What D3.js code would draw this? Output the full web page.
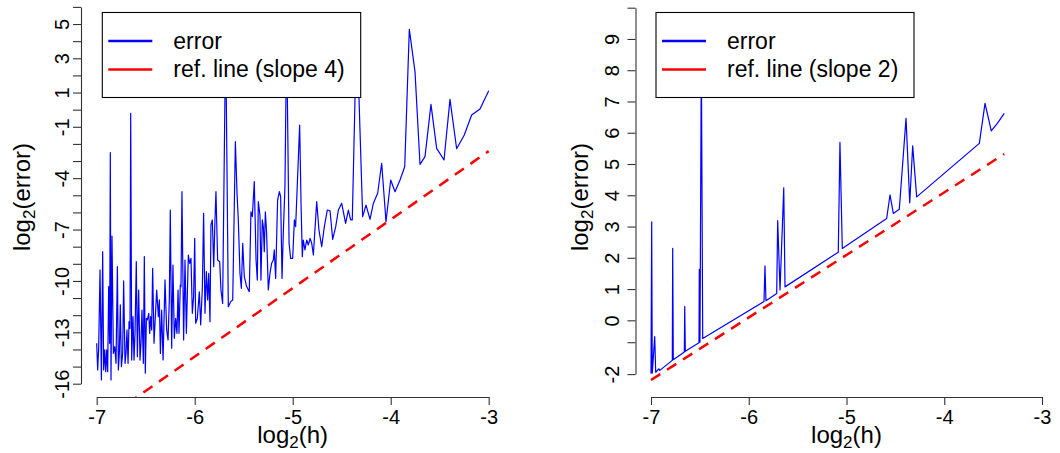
<!DOCTYPE html>
<html>
<head>
<meta charset="utf-8">
<script src="https://cdn.jsdelivr.net/npm/d3@7"></script>
<style>
  body { margin: 0; background: #fff; }
  svg { display: block; font-family: "Liberation Sans", Arial, Helvetica, sans-serif; }
</style>
</head>
<body>
<svg id="chart" width="1060" height="453"></svg>
<script>
// ---- data (log2(h), log2(error)) ----
const xTicks = [-7, -6, -5, -4, -3];

// left panel: slope 4 case
const leftX = [
  -7.000, -6.990, -6.980, -6.966, -6.952, -6.939, -6.929, -6.918, -6.908, -6.898,
  -6.888, -6.878, -6.868, -6.861, -6.854, -6.844, -6.830, -6.816, -6.803, -6.789,
  -6.779, -6.769, -6.759, -6.748, -6.735, -6.725, -6.711, -6.701, -6.691, -6.680,
  -6.670, -6.660, -6.653, -6.643, -6.630, -6.619, -6.609, -6.596, -6.585, -6.572,
  -6.558, -6.548, -6.538, -6.524, -6.514, -6.504, -6.493, -6.483, -6.469, -6.459,
  -6.449, -6.439, -6.429, -6.415,
  -6.388, -6.371, -6.361, -6.350, -6.337, -6.323, -6.303, -6.286, -6.272, -6.259,
  -6.249, -6.235, -6.222, -6.208, -6.194, -6.181, -6.170, -6.160, -6.147, -6.140,
  -6.130, -6.113, -6.099, -6.085, -6.065, -6.051, -6.038, -6.024, -6.011, -6.000,
  -5.990, -5.973, -5.953, -5.939, -5.922, -5.909, -5.895, -5.881, -5.868, -5.857,
  -5.844, -5.834, -5.820, -5.806, -5.793, -5.783, -5.766, -5.745, -5.732, -5.715,
  -5.684, -5.657, -5.633, -5.612, -5.585, -5.568, -5.555, -5.538, -5.524, -5.510,
  -5.494, -5.470, -5.443, -5.426, -5.412, -5.392,
  -5.374, -5.361, -5.351, -5.334, -5.324, -5.310, -5.300, -5.290, -5.279, -5.266,
  -5.249, -5.232, -5.215, -5.198, -5.188, -5.174, -5.154, -5.136, -5.123, -5.109,
  -5.096, -5.079, -5.062, -5.037, -5.021, -5.000, -4.983, -4.970, -4.929, -4.915,
  -4.902, -4.892, -4.875, -4.857, -4.840, -4.823, -4.806, -4.789, -4.755, -4.732,
  -4.704, -4.677, -4.647, -4.619, -4.592, -4.561, -4.534, -4.500, -4.460, -4.432,
  -4.409, -4.392, -4.347, -4.286, -4.252, -4.211, -4.177, -4.133, -4.092, -4.048,
  -4.000, -3.956, -3.905, -3.857, -3.810, -3.752, -3.701, -3.650, -3.589, -3.531,
  -3.456, -3.395, -3.327, -3.249, -3.174, -3.089, -3.000
];
const leftErr = [
  -13.64, -15.20, -13.93, -9.36, -15.78, -8.29, -15.20, -14.03, -15.30, -14.03,
  -15.30, -10.33, -13.64, -2.51, -15.78, -7.38, -14.23, -13.84, -14.81, -9.17,
  -15.20, -14.23, -11.40, -15.00, -14.23, -10.00, -14.81, -14.23, -12.86, -14.81,
  -12.38, -12.77, -0.21, -14.62, -12.08, -14.62, -13.06, -8.87, -14.42, -10.53,
  -14.62, -13.64, -11.70, -14.81, -8.58, -15.39, -12.18, -12.28, -11.89, -13.06,
  -12.08, -12.86, -9.26, -13.64,
  -10.53, -12.09, -11.11, -14.23, -11.70, -14.61, -9.94, -12.86, -13.45, -11.11,
  -5.86, -13.93, -9.07, -13.35, -12.18, -13.06, -10.53, -13.06, -10.24, -10.33,
  -4.79, -13.45, -8.78, -13.06, -8.49, -8.97, -8.68, -11.89, -10.92, -7.51,
  -12.47, -12.18, -10.63, -12.57, -10.43, -6.05, -11.89, -9.46, -11.11, -9.56,
  -12.38, -6.73, -6.44, -9.17, -6.44, -4.79, -8.78, -8.88, -10.53, -11.31,
  4.5, -11.50, -11.21, -11.11, -1.87, -4.89, -6.44, -9.56, -10.43, -7.80,
  -9.75, -10.33, -10.63, -5.96, -6.25, -4.20,
  -8.78, -9.95, -5.37, -6.15, -9.95, -6.44, -6.83, -8.29, -5.96, -7.22,
  -10.53, -9.56, -8.97, -8.78, -8.19, -9.85, -5.28, -4.79, -5.08, -9.85,
  -7.22, -4.50, 4.5, -7.80, -8.68, -8.68, -6.44, -6.83, -0.90, -5.47,
  -8.58, -7.61, -8.19, -7.61, -7.90, -7.51, -7.80, -8.48, -5.37, -7.03,
  -8.00, -6.83, -5.86, -5.90, -7.57, -6.83, -5.86, -5.47, -6.64, -5.86,
  -6.44, -6.44, 5.0, -6.25, -5.57, -6.40, -5.47, -4.88, -3.13, -6.54,
  -4.11, -4.79, -4.11, -3.33, 4.69, 2.22, -3.19, -2.74, 0.31, -2.26,
  -2.94, 0.60, -2.28, -1.48, -0.31, 0.04, 1.11
];
const leftRefX = [-7, -3];
const leftRefY = [-18.42, -2.42];
const leftYTicks = [-16, -15, -14, -13, -12, -11, -10, -9, -8, -7, -6, -5, -4, -3, -2, -1, 0, 1, 2, 3, 4, 5, 6];
const leftYLabels = [5, 3, 1, -1, -4, -7, -10, -13, -16];

// right panel: slope 2 case
const rightX = [
  -7.000, -6.993, -6.987, -6.962, -6.952, -6.920, -6.910, -6.782, -6.778, -6.772,
  -6.659, -6.655, -6.649, -6.509, -6.506, -6.499, -6.485, -6.471, -5.844, -5.834,
  -5.824, -5.714, -5.704, -5.680, -5.642, -5.629, -5.084, -5.067, -5.043, -4.589,
  -4.555, -4.521, -4.460, -4.391, -4.353, -4.323, -4.282, -3.641, -3.583, -3.519,
  -3.457, -3.386
];
const rightErr = [
  -1.70, 3.15, -1.69, -0.52, -1.66, -1.55, -1.60, -1.28, 2.30, -1.26,
  -1.01, 0.44, -0.99, -0.72, 1.63, -0.70, 8.5, -0.58, 0.60, 1.74,
  0.63, 0.86, 3.19, 0.97, 4.24, 1.07, 2.18, 5.69, 2.30, 3.26,
  4.01, 3.42, 3.55, 6.46, 3.76, 5.58, 3.95, 5.66, 6.94, 6.06,
  6.30, 6.62
];
const rightRefX = [-7, -3.386];
const rightRefY = [-1.91, 5.32];
const rightYTicks = [-1.72, -0.7, 0, 1, 2, 3, 4, 5, 6, 7, 8, 9, 10];
const rightYLabels = ["-2", "", "0", "1", "2", "3", "4", "5", "6", "7", "8", "9", ""];

const svg = d3.select('#chart');

function drawPanel(p) {
    const x = d3.scaleLinear().domain([-7, -3]).range(p.xRange);
    const y = d3.scaleLinear().domain(p.yDomain).range(p.yRange);
    const g = svg.append('g');

    g.append('clipPath').attr('id', p.id)
        .append('rect')
        .attr('x', p.clip[0]).attr('y', 0)
        .attr('width', p.clip[1] - p.clip[0]).attr('height', 397);

    const line = d3.line().x(d => x(d[0])).y(d => y(d[1]));
    const plot = g.append('g').attr('clip-path', `url(#${p.id})`);

    plot.append('path')
        .datum(d3.zip(p.errX, p.errY))
        .attr('d', line)
        .attr('fill', 'none')
        .attr('stroke', '#0000ff')
        .attr('stroke-width', 1.2)
        .attr('stroke-linejoin', 'round');

    plot.append('path')
        .datum(d3.zip(p.refX, p.refY))
        .attr('d', line)
        .attr('fill', 'none')
        .attr('stroke', '#ff0000')
        .attr('stroke-width', 2.5)
        .attr('stroke-dasharray', '11,8');

    // x axis
    const xa = g.append('g')
        .attr('transform', 'translate(0,397)')
        .call(d3.axisBottom(x).tickValues(xTicks).tickSize(8).tickSizeOuter(0)
            .tickFormat(d => String(d)));
    xa.selectAll('text').attr('y', 27).attr('dy', null).attr('font-size', 20).attr('fill', '#000');

    // y axis, labels parallel to the axis
    const ya = g.append('g')
        .attr('transform', `translate(${p.yAxisX},0)`)
        .call(d3.axisLeft(y).tickValues(p.yTicks).tickSize(8).tickSizeOuter(0)
            .tickFormat((d, i) => p.yLabels[i]));
    ya.selectAll('text')
        .attr('x', null).attr('dy', null)
        .attr('text-anchor', 'middle')
        .attr('transform', `translate(${-p.yLabelGap},0) rotate(-90)`)
        .attr('font-size', 20).attr('fill', '#000');

    g.selectAll('.domain, .tick line').attr('stroke', '#333').attr('stroke-width', 1.1);

    // axis titles
    const xt = g.append('text')
        .attr('x', (p.xRange[0] + p.xRange[1]) / 2).attr('y', 443)
        .attr('text-anchor', 'middle').attr('font-size', 24);
    xt.append('tspan').text('log');
    xt.append('tspan').attr('font-size', 17).attr('dy', 5).text('2');
    xt.append('tspan').attr('dy', -5).text('(h)');

    const yt = g.append('text')
        .attr('transform', `translate(${p.yTitleX},197) rotate(-90)`)
        .attr('text-anchor', 'middle').attr('font-size', 24);
    yt.append('tspan').text('log');
    yt.append('tspan').attr('font-size', 17).attr('dy', 5).text('2');
    yt.append('tspan').attr('dy', -5).text('(error)');

    // legend, white box over the lines
    const lg = g.append('g').attr('transform', `translate(${p.legend[0]},12.5)`);
    lg.append('rect')
        .attr('x', 0).attr('y', 0)
        .attr('width', p.legend[1]).attr('height', 85)
        .attr('fill', '#fff').attr('stroke', '#000').attr('stroke-width', 1.1);
    const items = [['error', '#0000ff'], [p.refLabel, '#ff0000']];
    items.forEach((it, i) => {
        const yy = 28.5 + i * 28.5;
        lg.append('line')
            .attr('x1', 6).attr('x2', 50).attr('y1', yy).attr('y2', yy)
            .attr('stroke', it[1]).attr('stroke-width', 2.5);
        lg.append('text')
            .attr('x', 71).attr('y', yy + 7.5)
            .attr('font-size', 23).text(it[0]);
    });
}

drawPanel({
    id: 'clipL', xRange: [96.7, 488.7], yDomain: [-16, 6], yRange: [383.7, 6.9],
    clip: [81, 506], yAxisX: 81, yLabelGap: 12, yTitleX: 30,
    errX: leftX, errY: leftErr, refX: leftRefX, refY: leftRefY,
    yTicks: leftYTicks,
    yLabels: leftYTicks.map(t => leftYLabels.includes(t) ? String(t) : ''),
    legend: [102.3, 258.4], refLabel: 'ref. line (slope 4)'
});

drawPanel({
    id: 'clipR', xRange: [651, 1042], yDomain: [-1.72, 10], yRange: [374.1, 7.7],
    clip: [636, 1060], yAxisX: 635.5, yLabelGap: 17, yTitleX: 588,
    errX: rightX, errY: rightErr, refX: rightRefX, refY: rightRefY,
    yTicks: rightYTicks, yLabels: rightYLabels,
    legend: [656, 258], refLabel: 'ref. line (slope 2)'
});
</script>
</body>
</html>
